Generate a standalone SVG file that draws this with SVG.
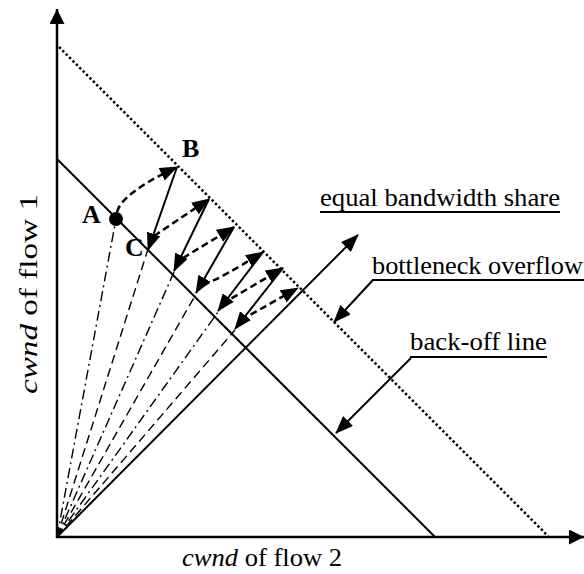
<svg xmlns="http://www.w3.org/2000/svg" width="584" height="574" viewBox="0 0 584 574">
<style>
.t{font-family:"Liberation Serif","Times New Roman",serif;font-size:26px;fill:#000}
.b{font-weight:bold}
.i{font-style:italic}
.ax{stroke:#000;stroke-width:2.5;fill:none}
.ln{stroke:#000;stroke-width:2;fill:none}
.dot{stroke:#000;stroke-width:2.5;stroke-dasharray:2.4 2.4;fill:none}
.dsh{stroke:#000;stroke-width:2.5;stroke-dasharray:7 4;fill:none}
.dd{stroke:#000;stroke-width:1.4;stroke-dasharray:10 4 2 4;fill:none}
.ld{stroke:#000;stroke-width:1.4;stroke-dasharray:9 5;fill:none}
.ul{stroke:#000;stroke-width:2}
</style>
<defs>
<marker id="ah" markerUnits="userSpaceOnUse" markerWidth="18" markerHeight="14" refX="17" refY="7" orient="auto" viewBox="0 0 18 14">
<path d="M0,0 L18,7 L0,14 z" fill="#000"/>
</marker>
<marker id="axh" markerUnits="userSpaceOnUse" markerWidth="15" markerHeight="15" refX="15" refY="7.5" orient="auto" viewBox="0 0 15 15">
<path d="M0,0 L15,7.5 L0,15 z" fill="#000"/>
</marker>
</defs>

<g id="axes">
<line class="ax" x1="57" y1="538" x2="57" y2="9" marker-end="url(#axh)"/>
<line class="ax" x1="56" y1="537" x2="584" y2="537" marker-end="url(#axh)"/>
</g>

<g id="bottleneck-line">
<line class="dot" x1="59" y1="47" x2="548" y2="536"/>
</g>
<g id="backoff-line">
<line class="ln" x1="57" y1="159" x2="435" y2="537"/>
</g>
<g id="equal-share-line">
<line class="ln" x1="57" y1="537" x2="358" y2="235" marker-end="url(#ah)"/>
</g>

<g id="rays">
<line class="dd" x1="57" y1="537" x2="116" y2="219"/>
<line class="ld" x1="57" y1="537" x2="148" y2="249"/>
<line class="dd" x1="57" y1="537" x2="174" y2="272"/>
<line class="ld" x1="57" y1="537" x2="196" y2="294"/>
<line class="dd" x1="57" y1="537" x2="218" y2="312"/>
<line class="ld" x1="57" y1="537" x2="235" y2="330"/>
</g>

<g id="connectors">
<path class="dsh" d="M117,212 Q122,193 177,167" marker-end="url(#ah)"/>
<line class="ln" x1="177" y1="167" x2="148" y2="250" marker-end="url(#ah)"/>
<path class="dsh" d="M154,236 L209,199" marker-end="url(#ah)"/>
<line class="ln" x1="209" y1="199" x2="174" y2="271" marker-end="url(#ah)"/>
<path class="dsh" d="M183,258 L234,227" marker-end="url(#ah)"/>
<line class="ln" x1="234" y1="227" x2="196" y2="293" marker-end="url(#ah)"/>
<path class="dsh" d="M203,285 Q222,278 263,252" marker-end="url(#ah)"/>
<line class="ln" x1="263" y1="252" x2="218" y2="311" marker-end="url(#ah)"/>
<path class="dsh" d="M222,304 L283,268" marker-end="url(#ah)"/>
<line class="ln" x1="283" y1="268" x2="235" y2="329" marker-end="url(#ah)"/>
<path class="dsh" d="M241,320 L298,288" marker-end="url(#ah)"/>
<line class="ln" x1="373" y1="280" x2="334" y2="322" marker-end="url(#ah)"/>
<line class="ln" x1="411" y1="358" x2="336" y2="433" marker-end="url(#ah)"/>
</g>

<g id="point-A">
<circle cx="116" cy="219" r="7" fill="#000"/>
<text class="t b" x="82" y="223">A</text>
</g>
<g id="point-B"><text class="t b" x="182" y="157">B</text></g>
<g id="point-C"><text class="t b" x="125" y="256">C</text></g>

<g id="label-equal">
<text class="t" x="320" y="206" textLength="240" lengthAdjust="spacingAndGlyphs">equal bandwidth share</text>
<line class="ul" x1="320" y1="212" x2="560" y2="212"/>
</g>
<g id="label-bottleneck">
<text class="t" x="372" y="274" textLength="211" lengthAdjust="spacingAndGlyphs">bottleneck overflow</text>
<line class="ul" x1="372" y1="280" x2="584" y2="280"/>
</g>
<g id="label-backoff">
<text class="t" x="410" y="350" textLength="137" lengthAdjust="spacingAndGlyphs">back-off line</text>
<line class="ul" x1="410" y1="357" x2="547" y2="357"/>
</g>
<g id="label-x">
<text class="t" x="182" y="566" textLength="160" lengthAdjust="spacingAndGlyphs"><tspan class="i">cwnd</tspan> of flow 2</text>
</g>
<g id="label-y">
<text class="t" transform="translate(37,394) rotate(-90)" x="0" y="0" textLength="200" lengthAdjust="spacingAndGlyphs"><tspan class="i">cwnd</tspan> of flow 1</text>
</g>
</svg>
